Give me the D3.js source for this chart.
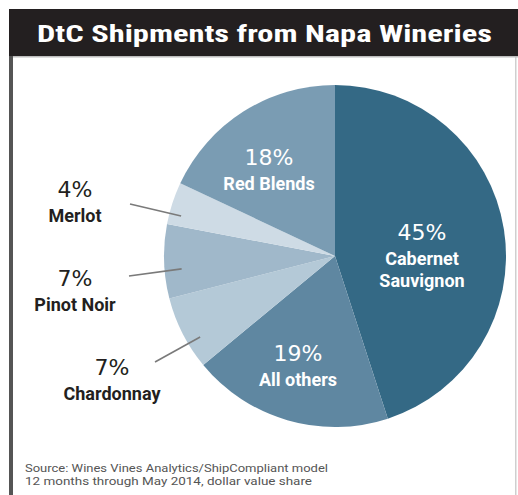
<!DOCTYPE html>
<html>
<head>
<meta charset="utf-8">
<script src="https://cdn.jsdelivr.net/npm/d3@7"></script>
<style>
  html, body { margin: 0; padding: 0; background: #fff; }
  svg { display: block; }
</style>
</head>
<body>
<svg id="chart" width="518" height="495"></svg>
<script>
// Direct-to-consumer shipment share by variety (dollar value, %)
const categories = ["Cabernet Sauvignon", "All others", "Chardonnay", "Pinot Noir", "Merlot", "Red Blends"];
const shares = [45, 19, 7, 7, 4, 18];
const percentLabels = ["45%", "19%", "7%", "7%", "4%", "18%"];
const nameLines = [["Cabernet", "Sauvignon"], ["All others"], ["Chardonnay"], ["Pinot Noir"], ["Merlot"], ["Red Blends"]];
const sliceColors = ["#346985", "#5f87a1", "#b4c9d7", "#a0b8ca", "#cedbe5", "#7a9cb3"];
const sourceLines = ["Source: Wines Vines Analytics/ShipCompliant model", "12 months through May 2014, dollar value share"];
const titleText = "DtC Shipments from Napa Wineries";

const svg = d3.select("#chart");
const W = 518, H = 495;
const TITLE_FONT = "'Roboto Condensed', 'Liberation Sans Narrow', Roboto, sans-serif";
const PCT_FONT = "'DejaVu Sans', Verdana, sans-serif";
const NAME_FONT = "Roboto, 'Liberation Sans', sans-serif";

// frame: left rule, right hairline, title bar
svg.append("rect").attr("x", 0).attr("y", 0).attr("width", W).attr("height", H).attr("fill", "#fff");
svg.append("rect").attr("x", 9).attr("y", 9).attr("width", 4).attr("height", 486).attr("fill", "#555");
svg.append("rect").attr("x", 515).attr("y", 56).attr("width", 1.5).attr("height", 439).attr("fill", "#cfcfcf");
svg.append("rect").attr("x", 9).attr("y", 9).attr("width", W - 9).attr("height", 47).attr("fill", "#231f20");
svg.append("rect").attr("x", 13).attr("y", 56).attr("width", W - 13).attr("height", 1.5).attr("fill", "#bdbdbd");

svg.append("text")
  .attr("x", 264.5).attr("y", 42)
  .attr("text-anchor", "middle")
  .attr("font-family", TITLE_FONT).attr("font-weight", 700).attr("font-size", 24)
  .attr("fill", "#fff")
  .attr("textLength", 455).attr("lengthAdjust", "spacingAndGlyphs")
  .text(titleText);

// pie, clockwise from 12 o'clock
const cx = 335, cy = 256, R = 171;
const data = categories.map((c, i) => ({ name: c, value: shares[i], pct: percentLabels[i], lines: nameLines[i], color: sliceColors[i] }));
const pie = d3.pie().value(d => d.value).sort(null).startAngle(0).endAngle(2 * Math.PI);
const arcs = pie(data);
const arc = d3.arc().innerRadius(0).outerRadius(R);

const g = svg.append("g").attr("transform", `translate(${cx},${cy})`);
g.selectAll("path.slice").data(arcs).join("path")
  .attr("class", "slice")
  .attr("d", arc)
  .attr("fill", d => d.data.color);

// label placement: inside slices in white, or outside in dark with a leader line
const labelSpec = {
  "Cabernet Sauvignon": { inside: true, x: 422, y: 240 },
  "Red Blends": { inside: true, x: 269, y: 165 },
  "All others": { inside: true, x: 298, y: 361 },
  "Merlot": { inside: false, x: 75, y: 197, lineFrom: [130, 204], lineR: 0.93, nudge: -3.4 },
  "Pinot Noir": { inside: false, x: 75, y: 286, lineFrom: [129, 276], lineR: 0.90, nudge: -3 },
  "Chardonnay": { inside: false, x: 112, y: 375, lineFrom: [155, 362], lineR: 0.92, nudge: -4 }
};

arcs.forEach(a => {
  const spec = labelSpec[a.data.name];
  const fill = spec.inside ? "#ffffff" : "#231f20";
  svg.append("text")
    .attr("x", spec.x).attr("y", spec.y)
    .attr("text-anchor", "middle")
    .attr("font-family", PCT_FONT).attr("font-size", 22).attr("font-weight", 400)
    .attr("fill", fill)
    .text(a.data.pct);
  a.data.lines.forEach((ln, k) => {
    svg.append("text")
      .attr("x", spec.x).attr("y", spec.y + 24.5 + k * 22)
      .attr("text-anchor", "middle")
      .attr("font-family", NAME_FONT).attr("font-size", 18).attr("font-weight", 700)
      .attr("fill", fill)
      .text(ln);
  });
  if (!spec.inside) {
    const mid = (a.startAngle + a.endAngle) / 2 + spec.nudge * Math.PI / 180;
    const r = R * spec.lineR;
    svg.append("line")
      .attr("x1", spec.lineFrom[0]).attr("y1", spec.lineFrom[1])
      .attr("x2", cx + Math.sin(mid) * r).attr("y2", cy - Math.cos(mid) * r)
      .attr("stroke", "#7a7a7a").attr("stroke-width", 1.6);
  }
});

// source note
const sourceWidths = [303, 287];
sourceLines.forEach((s, i) => {
  svg.append("text")
    .attr("x", 25).attr("y", 472 + i * 13)
    .attr("font-family", NAME_FONT).attr("font-size", 11)
    .attr("fill", "#555")
    .attr("textLength", sourceWidths[i]).attr("lengthAdjust", "spacingAndGlyphs")
    .text(s);
});
</script>
</body>
</html>
